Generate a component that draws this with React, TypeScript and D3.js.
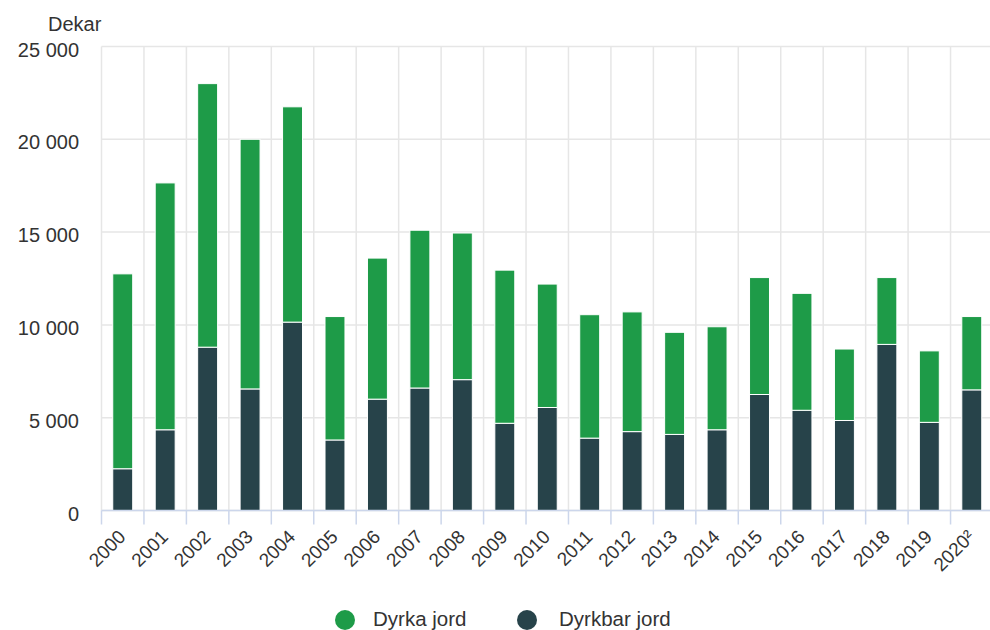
import React from "react";
import * as d3 from "d3";

const years = ["2000","2001","2002","2003","2004","2005","2006","2007","2008","2009","2010","2011","2012","2013","2014","2015","2016","2017","2018","2019","2020²"];
const dyrkbarJord = [2250,4350,8800,6550,10150,3800,6000,6600,7050,4700,5550,3900,4250,4100,4350,6250,5400,4850,8950,4750,6500];
const dyrkaJord = [10500,13300,14200,13450,11600,6650,7600,8500,7900,8250,6650,6650,6450,5500,5550,6300,6300,3850,3600,3850,3950];
const yTicks = [0,5000,10000,15000,20000,25000];
const seriesNames = ["Dyrka jord","Dyrkbar jord"];
const colors = { dyrka: "#1e9b48", dyrkbar: "#27434a" };

const W = 990, H = 630;
const left = 101.5, right = 993, top = 46.5, bottom = 510.5;
const font = "'Liberation Sans', Arial, sans-serif";
const textColor = "#333333";

export default function App() {
  const x = d3.scaleBand<string>().domain(years).range([left, right]).paddingInner(0.53).paddingOuter(0.265);
  const xb = d3.scaleBand<string>().domain(years).range([left, right]);
  const y = d3.scaleLinear().domain([0, 25000]).range([bottom, top]);
  const fmt = (v: number) => d3.format(",")(v).replace(/,/g, " ");

  const rows = years.map((yr, i) => ({ yr, dyrkbar: dyrkbarJord[i], dyrka: dyrkaJord[i] }));
  const stack = d3.stack<any>().keys(["dyrkbar", "dyrka"])(rows);

  return (
    <div style={{ position: "absolute", left: 0, top: 0 }}>
      <svg width={W} height={H} style={{ display: "block", fontFamily: font }}>
        <rect width={W} height={H} fill="#fff" />
        {/* vertical grid */}
        {years.map((yr) => (
          <line key={"vg" + yr} x1={xb(yr)!} x2={xb(yr)!} y1={top} y2={bottom} stroke="#e6e6e6" strokeWidth={1.5} />
        ))}
        {/* horizontal grid */}
        {yTicks.map((t) => (
          <line key={"hg" + t} x1={left} x2={right} y1={y(t)} y2={y(t)} stroke="#e6e6e6" strokeWidth={1.5} />
        ))}
        {/* y labels */}
        {yTicks.map((t) => (
          <text key={"yl" + t} x={79} y={y(t) + 10} textAnchor="end" fontSize={20} fill={textColor}>{fmt(t)}</text>
        ))}
        <text x={48} y={31} fontSize={20} fill={textColor}>Dekar</text>
        {/* bars */}
        {stack.map((s) => (
          <g key={s.key} fill={s.key === "dyrka" ? colors.dyrka : colors.dyrkbar}>
            {s.map((d, i) => (
              <rect key={i} x={x(years[i])!} width={x.bandwidth()} y={y(d[1])} height={y(d[0]) - y(d[1])} stroke="#fff" strokeWidth={1} />
            ))}
          </g>
        ))}
        {/* x axis */}
        <line x1={left} x2={right} y1={bottom} y2={bottom} stroke="#ccd6eb" strokeWidth={1.5} />
        {years.map((yr) => (
          <line key={"xt" + yr} x1={xb(yr)!} x2={xb(yr)!} y1={bottom} y2={bottom + 14} stroke="#ccd6eb" strokeWidth={1.5} />
        ))}
        {years.map((yr) => {
          const cx = xb(yr)! + xb.bandwidth() / 2 + 4;
          const cy = 538;
          return (
            <text key={"xl" + yr} x={cx} y={cy} textAnchor="end" fontSize={19} fill={textColor} transform={`rotate(-45 ${cx} ${cy})`}>{yr}</text>
          );
        })}
        {/* legend */}
        <circle cx={345} cy={620} r={10} fill={colors.dyrka} />
        <text x={373} y={626} fontSize={20.5} fill={textColor}>{seriesNames[0]}</text>
        <circle cx={527} cy={620} r={10} fill={colors.dyrkbar} />
        <text x={559} y={626} fontSize={20.5} fill={textColor}>{seriesNames[1]}</text>
      </svg>
    </div>
  );
}
